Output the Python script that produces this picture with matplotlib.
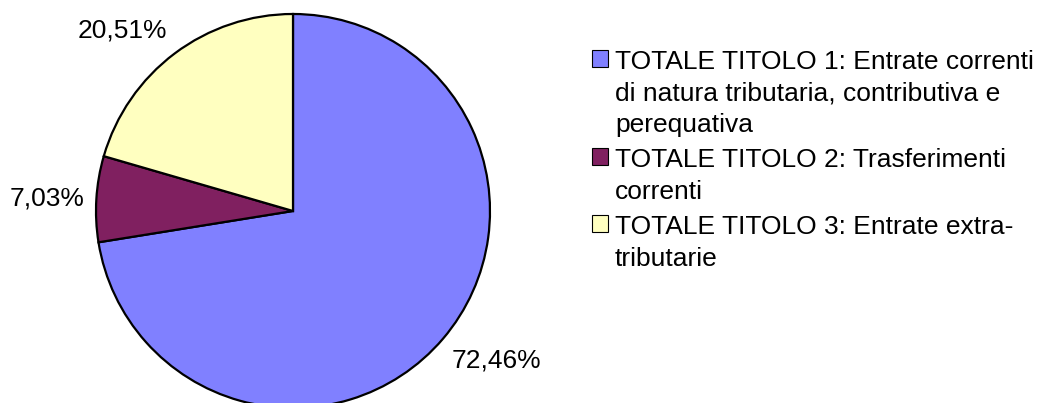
import numpy as np
import matplotlib.pyplot as plt
from matplotlib.patches import Rectangle

plt.rcParams['font.family'] = ['Liberation Sans', 'DejaVu Sans']

categories = [
    "TOTALE TITOLO 1: Entrate correnti\ndi natura tributaria, contributiva e\nperequativa",
    "TOTALE TITOLO 2: Trasferimenti\ncorrenti",
    "TOTALE TITOLO 3: Entrate extra-\ntributarie",
]
values = [72.46, 7.03, 20.51]
colors = ['#8080FF', '#802060', '#FFFFC0']

W, H = 1049, 403
fig = plt.figure(figsize=(W / 100, H / 100), dpi=100)


def fx(px):
    return px / W


def fy(py):
    return 1 - py / H


# pie centre (293, 211) px, radius 197 px
cx, cy, r = 293, 211, 197
ax = fig.add_axes([fx(cx - r), fy(cy + r), 2 * r / W, 2 * r / H])

ax.pie(values, colors=colors, startangle=90, counterclock=False, radius=1,
       wedgeprops=dict(edgecolor='black', linewidth=1.6), frame=True)
ax.set_xlim(-1, 1)
ax.set_ylim(-1, 1)
ax.set_aspect('equal')
ax.axis('off')

# percentage labels outside the slices (angle in deg, distance in radii)
label_pos = [(-36.3, 1.28), (177.2, 1.25), (133.4, 1.26)]
for v, (ang, d) in zip(values, label_pos):
    a = np.deg2rad(ang)
    ax.text(d * np.cos(a), d * np.sin(a), f"{v:.2f}%".replace('.', ','),
            ha='center', va='center', fontsize=19, clip_on=False)

# legend drawn by hand so the swatch sits on the first text line
cap_tops = [50, 148, 215]
for lab, c, top in zip(categories, colors, cap_tops):
    fig.patches.append(Rectangle((fx(592), fy(top + 17)), 16 / W, 17 / H,
                                 transform=fig.transFigure, facecolor=c,
                                 edgecolor='black', linewidth=0.8))
    fig.text(fx(615), fy(top), lab, fontsize=19, va='top',
             ha='left', linespacing=1.40)

fig.savefig('out.png', dpi=100)
